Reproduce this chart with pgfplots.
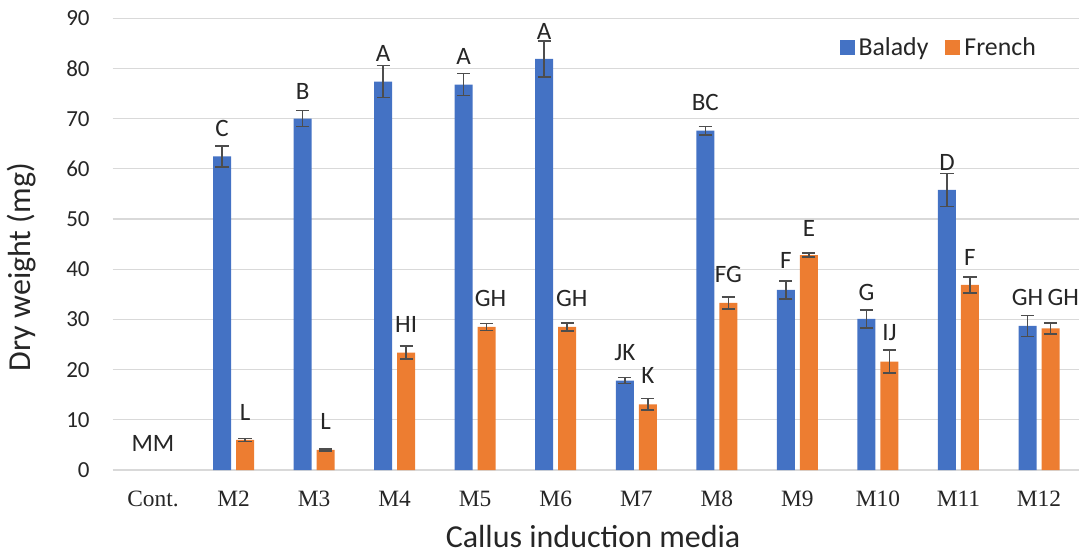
\documentclass[border=0pt]{standalone}
\usepackage{pgfplots}
\pgfplotsset{compat=1.18}
\usepackage{pgfplotstable}
\usepackage{fontspec}
\setmainfont{Carlito}
\newfontfamily\timesf{Liberation Serif}
\definecolor{balady}{HTML}{4472C4}
\definecolor{french}{HTML}{ED7D31}
\definecolor{gridc}{HTML}{D9D9D9}
\definecolor{errc}{HTML}{4D4D4D}
\definecolor{txt}{HTML}{262626}

\pgfplotstableread{
x y e
1 62.5 2.1
2 70.0 1.6
3 77.4 3.2
4 76.8 2.2
5 81.9 3.6
6 17.8 0.6
7 67.6 0.8
8 35.9 1.8
9 30.1 1.8
10 55.8 3.3
11 28.7 2.1
}\balady

\pgfplotstableread{
x y e
1 6.0 0.3
2 4.0 0.2
3 23.4 1.3
4 28.5 0.7
5 28.5 0.8
6 13.1 1.1
7 33.3 1.2
8 42.8 0.4
9 21.6 2.3
10 36.9 1.6
11 28.2 1.1
}\french

\pgfplotstableread{
x y lab
0 3.6 MM
0.857 66.4 C
1.143 9.8 L
1.857 73.8 B
2.143 8.0 L
2.857 81.3 A
3.143 27.3 HI
3.857 80.7 A
4.19 32.5 GH
4.857 85.8 A
5.2 32.5 GH
5.857 21.8 JK
6.143 17.1 K
6.857 71.6 BC
7.143 37.3 FG
7.857 40.0 F
8.143 46.5 E
8.857 33.7 G
9.143 25.6 IJ
9.857 59.6 D
10.143 40.7 F
10.857 32.7 GH
11.3 32.7 GH
}\labels

\begin{document}
\begin{tikzpicture}
\path[use as bounding box] (-56.35pt,-42pt) rectangle (485.65pt,235pt);
\begin{axis}[
  scale only axis,
  width=483.3pt, height=225.85pt,
  clip=false,
  xmin=-0.5, xmax=11.5,
  ymin=0, ymax=90,
  xtick={0,...,11},
  xticklabels={Cont.,M2,M3,M4,M5,M6,M7,M8,M9,M10,M11,M12},
  ytick={0,10,...,90},
  axis line style={draw=none},
  tick style={draw=none},
  ymajorgrids,
  grid style={gridc, line width=0.6pt},
  /pgf/number format/assume math mode=true,
  yticklabel style={anchor=east, inner sep=0pt, xshift=-11.35pt, font=\fontsize{11.5}{13}\selectfont, text=txt},
  xticklabel style={anchor=base, inner sep=0pt, yshift=-18.3pt, font=\timesf\fontsize{11.7}{13}\selectfont, text=txt},
  ylabel={Dry weight (mg)},
  ylabel style={at={(axis description cs:-0.0942,0.449)}, anchor=center, font=\fontsize{16}{18}\selectfont, text=txt},
  xlabel={Callus induction media},
  xlabel style={at={(axis description cs:0.497,0)}, anchor=base, yshift=-38.5pt, inner sep=0pt, font=\fontsize{16}{18}\selectfont, text=txt},
  legend columns=2,
  legend style={at={(axis description cs:0.752,0.935)}, anchor=west, draw=none, fill=none, inner sep=0pt, outer sep=0pt,
    font=\fontsize{12.9}{15}\selectfont, text=txt,
    /tikz/every even column/.append style={column sep=6.5pt}},
  legend image code/.code={\fill[#1] (0pt,-3.7pt) rectangle (7.5pt,3.7pt);},
]
\addplot[ybar, bar width=9pt, bar shift=-5.75pt, fill=balady, draw=none,
  error bars/.cd, y dir=both, y explicit,
  error bar style={line width=0.75pt, errc, xshift=-5.75pt},
  error mark options={line width=0.75pt, mark size=3.3pt, rotate=90, errc}]
  table[x=x, y=y, y error=e] {\balady};
\addlegendentry{Balady}
\addplot[ybar, bar width=9pt, bar shift=5.75pt, fill=french, draw=none,
  error bars/.cd, y dir=both, y explicit,
  error bar style={line width=0.75pt, errc, xshift=5.75pt},
  error mark options={line width=0.75pt, mark size=3.3pt, rotate=90, errc}]
  table[x=x, y=y, y error=e] {\french};
\addlegendentry{French}
\addplot[forget plot, only marks, mark=none, nodes near coords, point meta=explicit symbolic,
  every node near coord/.append style={anchor=south, inner sep=0pt, font=\fontsize{12.5}{14}\selectfont, text=txt}]
  table[x=x, y=y, meta=lab] {\labels};
\end{axis}
\end{tikzpicture}
\end{document}
